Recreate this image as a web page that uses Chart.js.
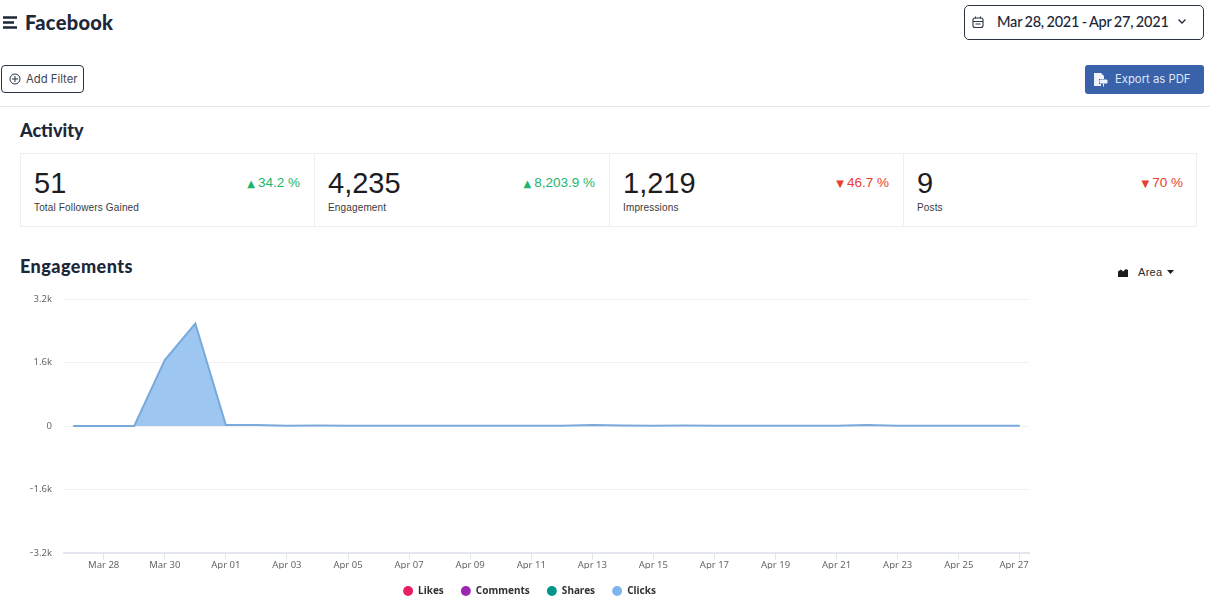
<!DOCTYPE html>
<html>
<head>
<meta charset="utf-8">
<script src="https://cdn.jsdelivr.net/npm/chart.js@4"></script>
<style>
  html, body { margin: 0; padding: 0; background: #fff; width: 1210px; height: 604px; overflow: hidden; }
  body { position: relative; font-family: 'Liberation Sans', sans-serif; color: #1f2a3c; }
  .abs { position: absolute; white-space: nowrap; }
  .title { font-family: Lato, sans-serif; font-weight: 900; color: #1c2739; }
  .card { position: absolute; top: 153px; height: 72px; border: 1px solid #eeeeee; }
  .num { position: absolute; left: 13px; top: 12px; font-size: 29px; line-height: 34px; color: #1d1d1f; }
  .lab { position: absolute; left: 13px; top: 48px; font-size: 10px; line-height: 12px; letter-spacing: .15px; color: #3a3a3c; }
  .chg { position: absolute; right: 14px; top: 21px; font-size: 13.5px; line-height: 16px; }
  .chg i { font-style: normal; font-family: 'DejaVu Sans'; font-size: 10px; margin-right: 3px; }
  .up { color: #1db56c; }
  .down { color: #e8402f; }
  #chartBox { position: absolute; left: 0; top: 280px; width: 1058px; height: 326px; }
</style>
</head>
<body>
<svg class="abs" style="left:3px;top:16px" width="15" height="13"><path d="M0 1.500h14M0 6.500h11M0 11.500h14" stroke="#1c2739" stroke-width="2.500"/></svg>
<div class="abs title" style="left:25px;top:10px;font-size:20px;line-height:25px;letter-spacing:.3px">Facebook</div>

<div class="abs" style="left:964px;top:5px;width:238px;height:33px;border:1px solid #2a3342;border-radius:5px"></div>
<svg class="abs" style="left:972px;top:16px" width="12" height="13" fill="none" stroke="#2a3342" stroke-width="1.100"><rect x="1" y="2" width="10" height="9.500" rx="2"/><path d="M1 5.500h10M3.500 .5v2M8.500 .5v2M3.500 8h5"/></svg>
<div class="abs" style="left:997px;top:12px;font-family:Lato,sans-serif;font-weight:500;font-size:14.500px;line-height:20px;letter-spacing:-.2px;word-spacing:-1px;color:#1c2739">Mar 28, 2021 - Apr 27, 2021</div>
<svg class="abs" style="left:1177px;top:18px" width="10" height="8" fill="none" stroke="#1c2739" stroke-width="1.300"><path d="M1.500 1.500l3.500 3.500 3.500-3.500"/></svg>

<div class="abs" style="left:1px;top:65px;width:81px;height:26px;border:1px solid #2a3342;border-radius:4px"></div>
<svg class="abs" style="left:9px;top:73px" width="12" height="12" fill="none" stroke="#2a3342" stroke-width="1"><circle cx="6" cy="6" r="5"/><path d="M3 6h6M6 3v6"/></svg>
<div class="abs" style="left:26px;top:72px;font-family:Inter,sans-serif;font-size:11.300px;line-height:14px;color:#3f4650">Add Filter</div>

<div class="abs" style="left:1085px;top:65px;width:119px;height:29px;background:#3a62ab;border-radius:3px"></div>
<svg class="abs" style="left:1093px;top:72px" width="15" height="15" fill="#eef2fa"><path d="M1 1h7l3 3v3H6v5h2v2H1z"/><path d="M7 8h7v3H7zM10.500 11.500v3" stroke="#eef2fa"/></svg>
<div class="abs" style="left:1115px;top:72px;font-family:Inter,sans-serif;font-size:11.300px;line-height:14px;color:#dfe6f4">Export as PDF</div>

<div class="abs" style="left:0;top:106px;width:1210px;height:1px;background:#e6e6e6"></div>

<div class="abs title" style="left:20px;top:119px;font-size:18px;line-height:22px">Activity</div>
<div class="card" style="left:20px;width:293px"><div class="num">51</div><div class="lab">Total Followers Gained</div><div class="chg up"><i>▲</i>34.2 %</div></div>
<div class="card" style="left:314px;width:294px"><div class="num">4,235</div><div class="lab">Engagement</div><div class="chg up"><i>▲</i>8,203.9 %</div></div>
<div class="card" style="left:609px;width:293px"><div class="num">1,219</div><div class="lab">Impressions</div><div class="chg down"><i>▼</i>46.7 %</div></div>
<div class="card" style="left:903px;width:292px"><div class="num">9</div><div class="lab">Posts</div><div class="chg down" style="right:13px"><i>▼</i>70 %</div></div>

<div class="abs title" style="left:20px;top:255px;font-size:18px;line-height:22px;letter-spacing:.45px">Engagements</div>
<svg class="abs" style="left:1117px;top:268px" width="12" height="10" fill="#1d1d1f"><path d="M1 9V3.500l3-2 2 2 3-2.500 2 1V9z"/></svg>
<div class="abs" style="left:1138px;top:265px;font-size:11px;line-height:14px;letter-spacing:.3px;color:#2a2a2c">Area</div>
<svg class="abs" style="left:1167px;top:270px" width="7" height="4" fill="#1d1d1f"><path d="M0 0h7L3.500 4z"/></svg>

<div id="chartBox"><canvas id="engagements"></canvas></div>

<script>
const days = ['Mar 27','Mar 28','Mar 29','Mar 30','Mar 31','Apr 01','Apr 02','Apr 03','Apr 04','Apr 05','Apr 06','Apr 07','Apr 08','Apr 09','Apr 10','Apr 11','Apr 12','Apr 13','Apr 14','Apr 15','Apr 16','Apr 17','Apr 18','Apr 19','Apr 20','Apr 21','Apr 22','Apr 23','Apr 24','Apr 25','Apr 26','Apr 27'];
const likes =    [0,0,0,1,2,1,1,0,0,0,1,0,0,0,0,0,0,1,0,0,0,0,0,0,0,0,1,0,0,0,0,0];
const comments = [0,0,0,0,1,0,0,0,0,0,0,0,0,0,0,0,0,0,0,0,0,0,0,0,0,0,0,0,0,0,0,0];
const shares =   [0,0,0,0,0,0,0,0,0,0,0,0,0,0,0,0,0,0,0,0,0,0,0,0,0,0,0,0,0,0,0,0];
const clicks =   [2,1,2,1660,2580,25,28,6,14,8,5,5,4,5,4,5,6,24,10,6,10,5,6,5,5,6,28,8,6,5,4,8];
const yTicks = [-3200,-1600,0,1600,3200];
const seriesNames = ['Likes','Comments','Shares','Clicks'];
const seriesColors = ['#e91e63','#9c27b0','#009688','#7cb5ec'];

const tickFont = { family: "'Noto Sans', sans-serif", size: 9.5 };

function area(i, values) {
  return {
    label: seriesNames[i],
    data: values.map((v, x) => ({ x, y: v })),
    borderColor: i === 3 ? '#7aa9dc' : seriesColors[i],
    backgroundColor: i === 3 ? '#9dc6f1' : seriesColors[i],
    borderWidth: i === 3 ? 2 : 0,
    pointRadius: 0,
    tension: 0,
    fill: i === 3 ? 'origin' : false,
    order: 3 - i
  };
}

// the last label gets pushed back inside the plot, like the reference
const lastLabelFit = {
  id: 'lastLabelFit',
  beforeDraw(chart) {
    const scale = chart.scales.x;
    const items = scale.getLabelItems();
    const last = items[items.length - 1];
    last.options.translation[0] = scale.right - 15;
  }
};

new Chart(document.getElementById('engagements').getContext('2d'), {
  type: 'line',
  data: { datasets: [area(0, likes), area(1, comments), area(2, shares), area(3, clicks)] },
  plugins: [lastLabelFit],
  options: {
    responsive: true,
    maintainAspectRatio: false,
    animation: false,
    layout: { padding: { left: 30, right: 29, top: 19, bottom: 0 } },
    interaction: { mode: 'nearest', intersect: false },
    scales: {
      x: {
        type: 'linear',
        min: -0.3,
        max: 31.3,
        afterBuildTicks: (scale) => {
          scale.ticks = days.map((_, i) => ({ value: i })).filter((t) => t.value % 2 === 1);
        },
        afterFit: (scale) => { scale.height = 16; },
        ticks: {
          autoSkip: false,
          maxRotation: 0,
          minRotation: 0,
          padding: 0,
          color: '#666666',
          font: tickFont,
          callback: (v) => days[v]
        },
        grid: { drawOnChartArea: false, drawTicks: true, tickLength: 7, tickColor: '#e3e6ef' },
        border: { color: '#e3e6ef', width: 2 }
      },
      y: {
        min: yTicks[0],
        max: yTicks[yTicks.length - 1],
        afterBuildTicks: (scale) => { scale.ticks = yTicks.map((value) => ({ value })); },
        afterFit: (scale) => { scale.width = 34; },
        ticks: {
          padding: 12,
          color: '#666666',
          font: tickFont,
          callback: (v) => v === 0 ? '0' : (v < 0 ? '\u2212' : '') + (Math.abs(v) / 1000).toFixed(1) + 'k'
        },
        grid: { color: '#f1f1f1', drawTicks: false },
        border: { display: false }
      }
    },
    plugins: {
      legend: {
        display: true,
        position: 'bottom',
        labels: {
          usePointStyle: true,
          pointStyle: 'circle',
          boxWidth: 10,
          boxHeight: 7,
          padding: 17,
          color: '#333333',
          font: { family: "'Noto Sans', sans-serif", size: 10, weight: 'bold' },
          generateLabels: () => seriesNames.map((text, i) => ({
            text,
            fillStyle: seriesColors[i],
            strokeStyle: seriesColors[i],
            lineWidth: 0,
            pointStyle: 'circle',
            fontColor: '#333333',
            datasetIndex: i
          }))
        }
      },
      tooltip: { enabled: false }
    }
  }
});
</script>
</body>
</html>
